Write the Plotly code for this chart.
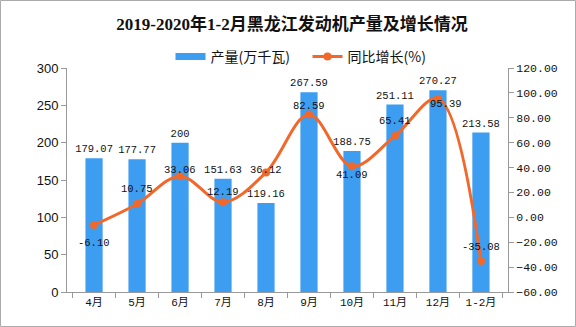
import plotly.graph_objects as go

categories = ["4月", "5月", "6月", "7月", "8月", "9月", "10月", "11月", "12月", "1-2月"]
output_vals = [179.07, 177.77, 200, 151.63, 119.16, 267.59, 188.75, 251.11, 270.27, 213.58]
output_labels = ["179.07", "177.77", "200", "151.63", "119.16", "267.59", "188.75", "251.11", "270.27", "213.58"]
growth_vals = [-6.10, 10.75, 33.06, 12.19, 36.12, 82.59, 41.09, 65.41, 95.39, -35.08]
growth_labels = ["-6.10", "10.75", "33.06", "12.19", "36.12", "82.59", "41.09", "65.41", "95.39", "-35.08"]

# label offsets in pixels (style)
lab_dy = [-18, 15, 6, 10, 2, 9, -9, 15, -5, 14]
lab_dx = [0, 0, 0, 0, 0, 0, 0, 0, 8, 0]

BAR = "#3d9df0"
LINE = "#f2682a"
AX = "#999999"
MONO = "Liberation Mono, Noto Sans CJK SC"

fig = go.Figure()
fig.add_trace(go.Bar(
    x=categories, y=output_vals, name="产量(万千瓦)", showlegend=False,
    marker=dict(color=BAR, line=dict(width=0)), width=0.4,
    text=output_labels, textposition="outside", cliponaxis=False,
    constraintext="none",
    textfont=dict(family=MONO, size=10.5, color="#111111"),
))
# legend entry for the bars (wide rectangle swatch)
fig.add_trace(go.Scatter(
    x=[None], y=[None], name="产量(万千瓦)    ", mode="lines",
    line=dict(color=BAR, width=7),
))
fig.add_trace(go.Scatter(
    x=categories, y=growth_vals, name="同比增长(%)", yaxis="y2",
    mode="lines+markers",
    line=dict(color=LINE, width=3, shape="spline", smoothing=1.0),
    marker=dict(color=LINE, size=8),
    cliponaxis=False,
))

for c, v, t, dy, dx in zip(categories, growth_vals, growth_labels, lab_dy, lab_dx):
    fig.add_annotation(x=c, y=v, yref="y2", text=t, showarrow=False,
                       yshift=dy, xshift=dx,
                       font=dict(family=MONO, size=10.5, color="#111111"))

W, H = 576, 327
ml, mr, mt, mb = 67, 68, 68, 35
pw, ph = W - ml - mr, H - mt - mb
fig.add_shape(type="rect", xref="paper", yref="paper",
              x0=(0.5 - ml) / pw, x1=(W - 0.5 - ml) / pw,
              y0=-(mb - 0.5) / ph, y1=(H - mb - 0.5) / ph,
              line=dict(color="#aaaaaa", width=1), fillcolor="rgba(0,0,0,0)", layer="below")

fig.update_layout(
    width=W, height=H, margin=dict(l=ml, r=mr, t=mt, b=mb),
    paper_bgcolor="white", plot_bgcolor="white",
    title=dict(text="<b>2019-2020年1-2月黑龙江发动机产量及增长情况</b>",
               x=(292) / W, xanchor="center", y=1 - 24 / H, yanchor="middle",
               font=dict(family="Liberation Serif, Noto Sans CJK SC", size=17, color="#111111")),
    legend=dict(orientation="h", x=(301 - ml) / pw, xanchor="center",
                y=(H - mb - 57) / ph, yanchor="middle",
                font=dict(family="Noto Sans CJK SC", size=14, color="#111111"),
                itemwidth=30, tracegroupgap=0, bgcolor="rgba(0,0,0,0)"),
    showlegend=True,
    bargap=0.6,
    xaxis=dict(type="category", showline=True, linecolor=AX, linewidth=1,
               ticks="outside", tickson="boundaries", ticklen=5, tickcolor=AX,
               showgrid=False, tickfont=dict(family=MONO, size=11, color="#111111")),
    yaxis=dict(range=[0, 300], dtick=50, showline=True, linecolor=AX, linewidth=1,
               ticks="outside", ticklen=5, tickcolor=AX, showgrid=False, zeroline=False,
               tickfont=dict(family="Liberation Sans", size=13, color="#111111")),
    yaxis2=dict(range=[-60, 120], dtick=20, tickformat=".2f", overlaying="y", side="right",
                showline=True, linecolor=AX, linewidth=1, ticks="outside", ticklen=5,
                tickcolor=AX, showgrid=False, zeroline=False,
                tickfont=dict(family=MONO, size=11.5, color="#111111")),
)

fig.write_html("out.html")
